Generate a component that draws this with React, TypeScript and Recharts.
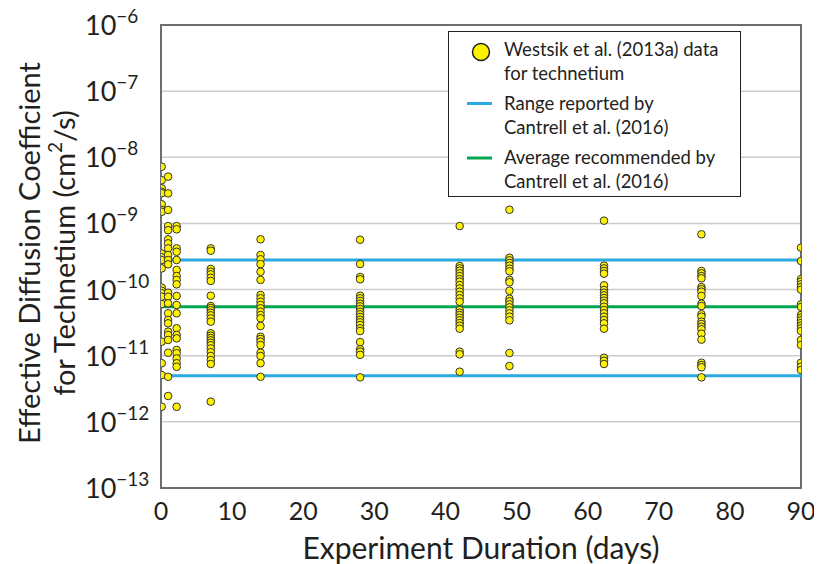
import React from "react";
import {
  ScatterChart,
  Scatter,
  XAxis,
  YAxis,
  CartesianGrid,
  ReferenceLine,
  ReferenceArea,
} from "recharts";

// Experiment durations (days) for each column of measurements
const durations = [0.1, 1, 2.2, 7, 14, 28, 42, 49, 62.3, 76, 90];

// Effective diffusion coefficients (cm^2/s) per duration
const day0Values = [7.2e-9, 4.5e-9, 3.4e-9, 3.0e-9, 2.86e-9, 1.95e-9, 1.6e-9, 1.5e-9, 3.5e-10, 3.07e-10, 2.8e-10, 2.09e-10, 1.07e-10, 9.6e-11, 8.8e-11, 7.8e-11, 6.05e-11, 1.63e-11, 7.7e-12, 5.1e-12, 1.69e-12];
const day1Values = [5.1e-9, 2.85e-9, 1.6e-9, 9.1e-10, 7.9e-10, 5.75e-10, 5.0e-10, 4.2e-10, 3.33e-10, 2.8e-10, 2.41e-10, 8.97e-11, 7.8e-11, 6.2e-11, 4.38e-11, 3.47e-11, 3.09e-11, 2.31e-11, 2.06e-11, 1.73e-11, 1.11e-11, 4.8e-12, 2.46e-12];
const day2Values = [9.1e-10, 8.15e-10, 4.2e-10, 3.73e-10, 2.8e-10, 1.98e-10, 1.6e-10, 1.4e-10, 1.2e-10, 8.0e-11, 5.85e-11, 4.38e-11, 2.6e-11, 2.06e-11, 1.83e-11, 1.22e-11, 1.09e-11, 9.1e-12, 7.7e-12, 6.8e-12, 1.69e-12];
const day7Values = [4.2e-10, 3.87e-10, 2.05e-10, 1.86e-10, 1.7e-10, 1.51e-10, 1.35e-10, 8.07e-11, 5.64e-11, 5.26e-11, 4.86e-11, 4.46e-11, 4.08e-11, 3.67e-11, 3.27e-11, 2.18e-11, 2.01e-11, 1.85e-11, 1.71e-11, 1.57e-11, 1.44e-11, 1.29e-11, 1.13e-11, 9.9e-12, 8.6e-12, 7.5e-12, 2.02e-12];
const day14Values = [5.75e-10, 3.33e-10, 2.87e-10, 2.43e-10, 1.86e-10, 1.4e-10, 8.28e-11, 7.38e-11, 6.55e-11, 5.85e-11, 5.21e-11, 4.63e-11, 4.12e-11, 3.68e-11, 2.81e-11, 1.94e-11, 1.79e-11, 1.63e-11, 1.45e-11, 1.11e-11, 9.9e-12, 7.7e-12, 4.8e-12];
const day28Values = [5.67e-10, 2.43e-10, 1.55e-10, 1.43e-10, 8.07e-11, 7.38e-11, 6.72e-11, 6.11e-11, 5.58e-11, 5.08e-11, 4.63e-11, 4.23e-11, 3.85e-11, 3.5e-11, 3.2e-11, 2.91e-11, 2.59e-11, 2.36e-11, 1.61e-11, 1.25e-11, 1.15e-11, 1.03e-11, 4.71e-12];
const day42Values = [9.14e-10, 2.27e-10, 2.09e-10, 1.93e-10, 1.76e-10, 1.6e-10, 1.44e-10, 1.32e-10, 1.17e-10, 1.04e-10, 9.29e-11, 8.28e-11, 7.38e-11, 6.55e-11, 4.91e-11, 4.47e-11, 4.12e-11, 3.76e-11, 3.43e-11, 3.12e-11, 2.84e-11, 2.56e-11, 1.15e-11, 1.05e-11, 5.73e-12];
const day49Values = [1.61e-9, 3.03e-10, 2.77e-10, 2.52e-10, 2.3e-10, 2.07e-10, 1.89e-10, 1.4e-10, 1.29e-10, 9.6e-11, 7.28e-11, 6.64e-11, 5.98e-11, 5.39e-11, 4.86e-11, 4.37e-11, 3.89e-11, 3.43e-11, 1.1e-11, 6.98e-12];
const day62Values = [1.1e-9, 2.3e-10, 2.09e-10, 1.91e-10, 1.74e-10, 1.16e-10, 9.85e-11, 8.97e-11, 8.19e-11, 7.45e-11, 6.79e-11, 6.2e-11, 5.51e-11, 4.91e-11, 4.38e-11, 3.89e-11, 3.47e-11, 3.09e-11, 2.56e-11, 9.3e-12, 8.4e-12, 7.5e-12];
const day76Values = [6.85e-10, 1.91e-10, 1.76e-10, 1.6e-10, 1.48e-10, 1.09e-10, 1.01e-10, 9.29e-11, 8.0e-11, 6.11e-11, 5.64e-11, 4.23e-11, 3.89e-11, 3.27e-11, 3.01e-11, 2.74e-11, 2.51e-11, 2.15e-11, 1.75e-11, 7.83e-12, 7.23e-12, 6.68e-12, 4.71e-12];
const day90Values = [4.3e-10, 2.7e-10, 1.44e-10, 1.32e-10, 1.2e-10, 1.09e-10, 9.95e-11, 5.98e-11, 5.45e-11, 4.12e-11, 3.76e-11, 3.43e-11, 3.12e-11, 2.84e-11, 2.6e-11, 2.36e-11, 1.73e-11, 1.45e-11, 7.83e-12, 6.82e-12, 6.08e-12];

const valuesByDuration = [
  day0Values, day1Values, day2Values, day7Values, day14Values, day28Values,
  day42Values, day49Values, day62Values, day76Values, day90Values,
];

// Reference values (cm^2/s)
const rangeLow = 5e-12;
const rangeHigh = 2.8e-10;
const averageRecommended = 5.5e-11;

// Axis ticks
const xTicks = [0, 10, 20, 30, 40, 50, 60, 70, 80, 90];
const yTicks = [1e-13, 1e-12, 1e-11, 1e-10, 1e-9, 1e-8, 1e-7, 1e-6];
const yTickExponents = ["\u221213", "\u221212", "\u221211", "\u221210", "\u22129", "\u22128", "\u22127", "\u22126"];

const legendLabels = [
  ["Westsik et al. (2013a) data", "for technetium"],
  ["Range reported by", "Cantrell et al. (2016)"],
  ["Average recommended by", "Cantrell et al. (2016)"],
];

const points = durations.flatMap((d, i) =>
  valuesByDuration[i].map((v) => ({ x: d, y: v }))
);

const FONT = "Lato, 'Open Sans', sans-serif";
const TEXT = "#231f20";
const YELLOW = "#fff200";
const BLUE = "#29abe2";
const GREEN = "#00a651";

const YTick = (props: any) => {
  const { x, y, index } = props;
  return (
    <text x={x - 68} y={y + 10} fontFamily={FONT} fontSize={27} fill={TEXT} textAnchor="start">
      <tspan>10</tspan>
      <tspan dy={-12} fontSize={19}>{yTickExponents[index]}</tspan>
    </text>
  );
};

const XTick = (props: any) => {
  const { x, y, payload } = props;
  return (
    <text x={x} y={y + 24} fontFamily={FONT} fontSize={25} fill={TEXT} textAnchor="middle">
      {payload.value}
    </text>
  );
};

const YTitle = () => {
  const cy = 253;
  return (
    <g fontFamily={FONT} fontSize={29} fill={TEXT}>
      <text x={20} y={cy} textAnchor="middle" dominantBaseline="central" transform={`rotate(-90 20 ${cy})`}>
        Effective Diffusion Coefficient
      </text>
      <text x={55} y={cy} textAnchor="middle" dominantBaseline="central" transform={`rotate(-90 55 ${cy})`}>
        for Technetium (cm<tspan dy={-9} fontSize={19}>2</tspan><tspan dy={9}>/s)</tspan>
      </text>
    </g>
  );
};

const XTitle = () => {
  return (
    <text x={473} y={547} textAnchor="middle" dominantBaseline="central" fontFamily={FONT} fontSize={30} fill={TEXT}>
      Experiment Duration (days)
    </text>
  );
};

const ChartLegend = () => {
  const lineStyle = {
    position: "absolute" as const,
    left: 55,
    fontSize: 18.5,
    lineHeight: "23.5px",
    color: TEXT,
    whiteSpace: "nowrap" as const,
  };
  return (
    <div
      style={{
        position: "absolute",
        left: 440,
        top: 31,
        width: 293,
        height: 166,
        boxSizing: "border-box",
        border: "1.5px solid #231f20",
        background: "#fff",
        fontFamily: FONT,
      }}
    >
      <svg width={60} height={166} style={{ position: "absolute", left: 0, top: 0 }}>
        <circle cx={32} cy={20} r={8.5} fill={YELLOW} stroke="#231f20" strokeWidth={1.5} />
        <line x1={18} x2={43} y1={71.5} y2={71.5} stroke={BLUE} strokeWidth={3} />
        <line x1={18} x2={43} y1={126} y2={126} stroke={GREEN} strokeWidth={3} />
      </svg>
      <div style={{ ...lineStyle, top: 6 }}>
        {legendLabels[0][0]}<br />{legendLabels[0][1]}
      </div>
      <div style={{ ...lineStyle, top: 60 }}>
        {legendLabels[1][0]}<br />{legendLabels[1][1]}
      </div>
      <div style={{ ...lineStyle, top: 114 }}>
        {legendLabels[2][0]}<br />{legendLabels[2][1]}
      </div>
    </div>
  );
};

const Dot = (props: any) => {
  const { cx, cy } = props;
  if (cx == null || cy == null) return null;
  return <circle cx={cx} cy={cy} r={3.8} fill={YELLOW} stroke="#333333" strokeWidth={1} />;
};

export default function App() {
  return (
    <div style={{ width: 814, height: 564, position: "relative", top: -8, background: "#fff" }}>
      <ScatterChart
        width={814}
        height={564}
        margin={{ top: 25, right: 21, bottom: 0, left: 0 }}
        style={{ overflow: "visible" }}
      >
        <CartesianGrid horizontal vertical={false} stroke="#cccccc" strokeWidth={1.5} />
        <XAxis
          type="number"
          dataKey="x"
          domain={[0, 90]}
          ticks={xTicks}
          allowDataOverflow
          height={76}
          tickLine={false}
          axisLine={false}
          tick={<XTick />}
          label={<XTitle />}
        />
        <YAxis
          type="number"
          dataKey="y"
          scale="log"
          domain={[1e-13, 1e-6]}
          ticks={yTicks}
          allowDataOverflow
          width={153}
          tickLine={false}
          axisLine={false}
          tick={<YTick />}
          label={<YTitle />}
        />
        <ReferenceArea x1={0} x2={90} y1={1e-13} y2={1e-6} fill="none" stroke="#6d6e71" strokeWidth={2} />
        <ReferenceLine y={rangeHigh} stroke={BLUE} strokeWidth={3} />
        <ReferenceLine y={averageRecommended} stroke={GREEN} strokeWidth={3} />
        <ReferenceLine y={rangeLow} stroke={BLUE} strokeWidth={3} />
        <Scatter data={points} isAnimationActive={false} shape={<Dot />} />
      </ScatterChart>
      <ChartLegend />
    </div>
  );
}
